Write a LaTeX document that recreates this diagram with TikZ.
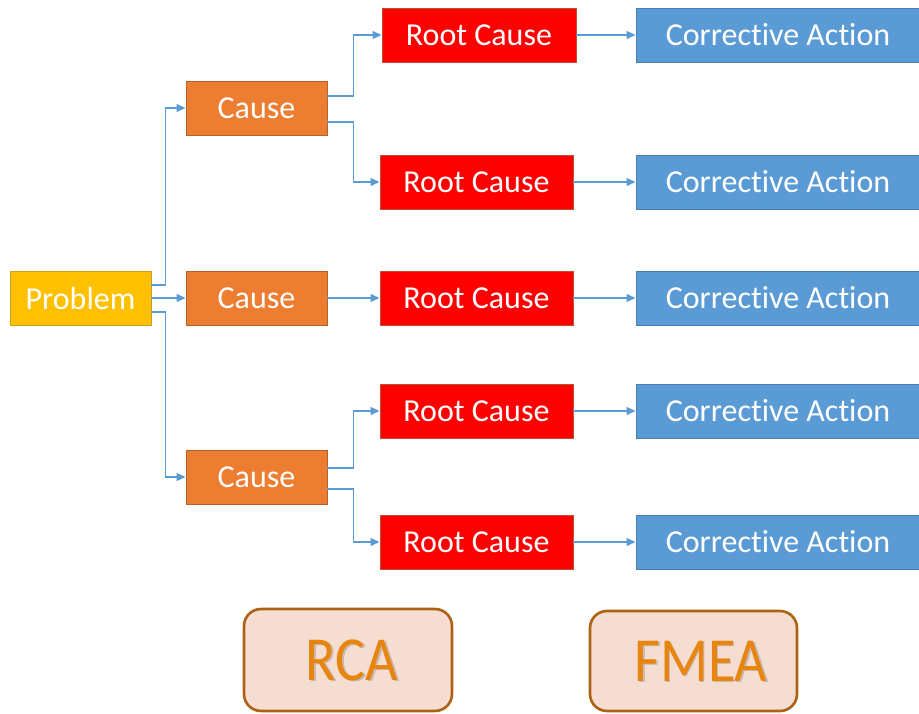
\documentclass[tikz,border=0pt]{standalone}
\usepackage{fontspec}
\setmainfont{Carlito}[Ligatures=NoCommon]
\usetikzlibrary{arrows.meta,positioning}
\definecolor{probfill}{HTML}{FFC000}
\definecolor{probline}{HTML}{C9A020}
\definecolor{causefill}{HTML}{ED7D31}
\definecolor{causeline}{HTML}{B8602A}
\definecolor{rootfill}{HTML}{FF0000}
\definecolor{rootline}{HTML}{C05030}
\definecolor{actfill}{HTML}{5B9BD5}
\definecolor{actline}{HTML}{4A7EB0}
\definecolor{connclr}{HTML}{5B9BD5}
\definecolor{tagfill}{HTML}{F6DDD1}
\definecolor{tagline}{HTML}{AD6213}
\definecolor{tagtext}{HTML}{E8850F}
\definecolor{tagshade}{HTML}{C8B8B0}
% text with a soft drop shadow, set in one box
\newcommand{\shadowed}[1]{\makebox[0pt][l]{\hspace{1.4pt}\raisebox{-1.4pt}{\color{tagshade}#1}}#1}
\tikzset{
  box/.style={draw, line width=0.9pt, inner sep=0pt, minimum height=54pt,
    text=white, font=\fontsize{32}{36}\selectfont},
  probbox/.style={box, fill=probfill, draw=probline, minimum width=141pt},
  causebox/.style={box, fill=causefill, draw=causeline, minimum width=141pt},
  rootbox/.style={box, fill=rootfill, draw=rootline, minimum width=193pt},
  actbox/.style={box, fill=actfill, draw=actline, minimum width=284pt},
  tagbox/.style={draw=tagline, fill=tagfill, line width=2.6pt, rounded corners=17pt,
    inner sep=0pt},
  tagtxt/.style={text=tagtext, inner sep=0pt, font=\fontsize{56}{60}\selectfont},
  conn/.style={draw=connclr, line width=1.2pt,
    -{Triangle[length=9pt,width=8pt]}},
}
\begin{document}
\begin{tikzpicture}[x=1pt,y=-1pt]
\useasboundingbox (0,0) rectangle (919,714);
% main chain
\node[probbox] (P) at (80.5,298) {Problem};
\node[causebox] (C1) at (256.5,108) {Cause};
\node[causebox] (C2) at (256.5,298) {Cause};
\node[causebox] (C3) at (256.5,477) {Cause};
\node[rootbox, minimum width=194pt] (R1) at (479,35) {Root Cause};
\node[rootbox] (R2) at (476.5,182) {Root Cause};
\node[rootbox] (R3) at (476.5,298) {Root Cause};
\node[rootbox] (R4) at (476.5,411) {Root Cause};
\node[rootbox] (R5) at (476.5,542) {Root Cause};
\node[actbox] (A1) at (778,35) {Corrective Action};
\node[actbox] (A2) at (778,182) {Corrective Action};
\node[actbox] (A3) at (778,298) {Corrective Action};
\node[actbox] (A4) at (778,411) {Corrective Action};
\node[actbox] (A5) at (778,542) {Corrective Action};
% problem to causes
\draw[conn] ([yshift=13pt]P.east) -- ++(14,0) |- (C1.west);
\draw[conn] (P.east) -- (C2.west);
\draw[conn] ([yshift=-14pt]P.east) -- ++(14,0) |- (C3.west);
% causes to root causes
\draw[conn] ([yshift=12pt]C1.east) -- ++(26,0) |- (R1.west);
\draw[conn] ([yshift=-14pt]C1.east) -- ++(26,0) |- (R2.west);
\draw[conn] (C2.east) -- (R3.west);
\draw[conn] ([yshift=9pt]C3.east) -- ++(26,0) |- (R4.west);
\draw[conn] ([yshift=-12pt]C3.east) -- ++(26,0) |- (R5.west);
% root causes to corrective actions
\foreach \i in {1,...,5}{
  \draw[conn] (R\i.east) -- (A\i.west);
}
% method tags
\node[tagbox, minimum width=208pt, minimum height=102pt] (RCA) at (348,660) {};
\node[tagbox, minimum width=207pt, minimum height=100pt] (FMEA) at (693.5,661) {};
\node[tagtxt] (RCAt) at (352,661) {\scalebox{1}[1.12]{\shadowed{RCA}}};
\node[tagtxt] (FMEAt) at (701,662) {\scalebox{1}[1.12]{\shadowed{FMEA}}};
\end{tikzpicture}
\end{document}
